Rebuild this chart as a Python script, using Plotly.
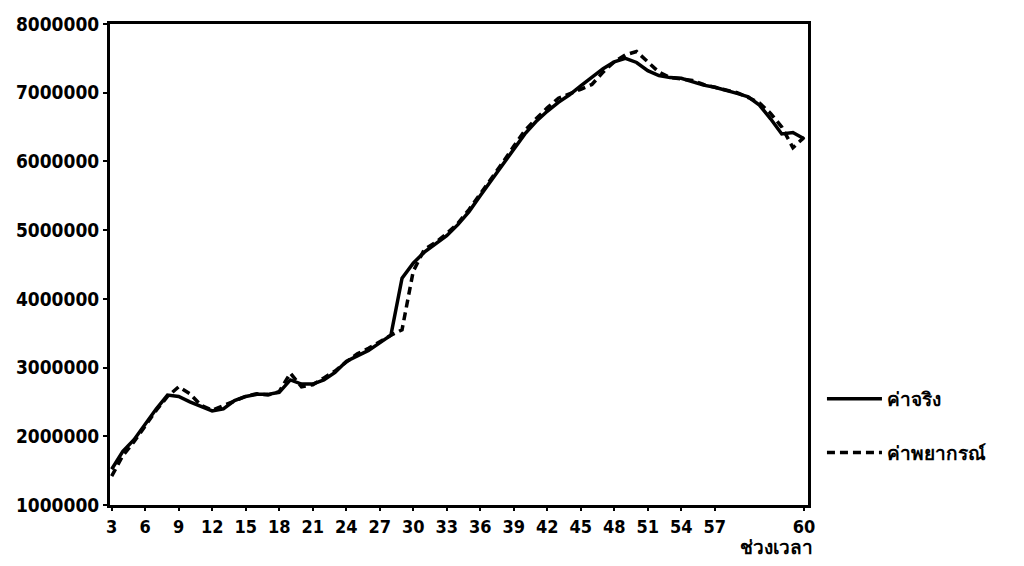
import plotly.graph_objects as go

# period index (x) and values (baht)
periods = list(range(3, 66))
actual_m = [1.52, 1.78, 1.95, 2.18, 2.40, 2.60, 2.58, 2.50, 2.43, 2.37,
            2.40, 2.52, 2.58, 2.61, 2.61, 2.64, 2.82, 2.76, 2.76, 2.82,
            2.93, 3.09, 3.17, 3.25, 3.36, 3.47, 4.30, 4.52, 4.68, 4.80,
            4.92, 5.08, 5.27, 5.50, 5.72, 5.95, 6.18, 6.40, 6.58, 6.73,
            6.86, 6.97, 7.10, 7.22, 7.35, 7.45, 7.50, 7.44, 7.32, 7.25,
            7.22, 7.21, 7.16, 7.11, 7.08, 7.04, 6.99, 6.94, 6.82, 6.62,
            6.40, 6.42, 6.33]
forecast_m = [1.42, 1.72, 1.92, 2.15, 2.38, 2.58, 2.72, 2.62, 2.45, 2.38,
              2.45, 2.52, 2.58, 2.62, 2.60, 2.65, 2.92, 2.72, 2.75, 2.85,
              2.95, 3.08, 3.20, 3.28, 3.38, 3.47, 3.55, 4.40, 4.72, 4.82,
              4.95, 5.10, 5.30, 5.52, 5.74, 5.98, 6.22, 6.45, 6.62, 6.78,
              6.92, 6.98, 7.05, 7.12, 7.30, 7.45, 7.55, 7.60, 7.45, 7.30,
              7.22, 7.20, 7.18, 7.12, 7.08, 7.03, 7.00, 6.93, 6.85, 6.70,
              6.50, 6.20, 6.35]
actual = [v * 1_000_000 for v in actual_m]
forecast = [v * 1_000_000 for v in forecast_m]

x_tick_vals = list(range(3, 58, 3)) + [65]
x_tick_text = [str(v) for v in range(3, 58, 3)] + ["60"]
y_tick_vals = [1_000_000 * k for k in range(1, 9)]
y_tick_text = [str(v) for v in y_tick_vals]

series_names = ["ค่าจริง", "ค่าพยากรณ์"]
x_title = "ช่วงเวลา"

FONT = "DejaVu Sans Condensed"

fig = go.Figure()
fig.add_trace(go.Scatter(x=periods, y=actual, mode="lines", name=series_names[0],
                         line=dict(color="black", width=3.5), legendgroup="a"))
fig.add_trace(go.Scatter(x=periods, y=forecast, mode="lines", name=series_names[1],
                         line=dict(color="black", width=3.5, dash="8px,5px"), legendgroup="b"))

fig.update_layout(
    width=1024, height=566,
    margin=dict(l=110, r=216, t=24, b=61),
    paper_bgcolor="white", plot_bgcolor="white",
    font=dict(family=FONT, size=18, color="black", weight="bold"),
    showlegend=True,
    legend=dict(x=1.02, y=0.26, xanchor="left", yanchor="top",
                font=dict(family=FONT, size=19, color="black", weight="bold"),
                itemwidth=55, tracegroupgap=26, traceorder="grouped",
                bgcolor="rgba(0,0,0,0)"),
)
fig.update_xaxes(range=[2.85, 65.35], tickvals=x_tick_vals, ticktext=x_tick_text,
                 showgrid=False, zeroline=False, showline=True, linecolor="black",
                 linewidth=3, mirror=True, ticks="outside", ticklen=3, tickwidth=2,
                 tickcolor="black", tickfont=dict(size=18))
fig.update_yaxes(range=[1_000_000, 8_000_000], tickvals=y_tick_vals, ticktext=y_tick_text,
                 showgrid=False, zeroline=False, showline=True, linecolor="black",
                 linewidth=3, mirror=True, ticks="outside", ticklen=4, tickwidth=2,
                 tickcolor="black", tickfont=dict(size=19))
fig.add_annotation(text=x_title, xref="paper", yref="paper", x=0.955, y=-0.06,
                   xanchor="center", yanchor="top", showarrow=False,
                   font=dict(family=FONT, size=19, color="black", weight="bold"))

fig.write_html("out.html")
